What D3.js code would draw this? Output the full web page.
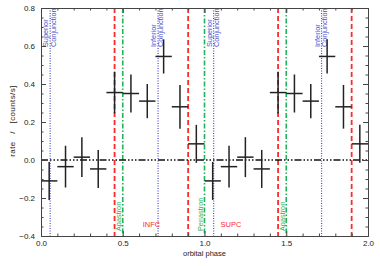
<!DOCTYPE html>
<html><head><meta charset="utf-8">
<script src="https://cdn.jsdelivr.net/npm/d3@7"></script>
<style>
html,body{margin:0;padding:0;background:#fff;}
svg text{font-family:"Liberation Sans",Arial,sans-serif;}
</style></head>
<body><svg id="c" width="380" height="266"></svg>
<script>
// ---- data ----
const phaseCenters = [0.05,0.15,0.25,0.35,0.45,0.55,0.65,0.75,0.85,0.95,
                      1.05,1.15,1.25,1.35,1.45,1.55,1.65,1.75,1.85,1.95];
const rates = [-0.11,-0.035,0.015,-0.047,0.355,0.35,0.31,0.545,0.28,0.085,
               -0.11,-0.035,0.015,-0.047,0.355,0.35,0.31,0.545,0.28,0.085];
const rateErrors = [0.10,0.11,0.105,0.10,0.11,0.10,0.09,0.09,0.115,0.10,
                    0.10,0.11,0.105,0.10,0.11,0.10,0.09,0.09,0.115,0.10];
const binHalfWidth = 0.05;
const conjunctionPhases = [0.056,0.716,1.056,1.716];
const conjunctionLabels = [["Superior","Conjunction"],["Inferior","Conjunction"],["Superior","Conjunction"],["Inferior","Conjunction"]];
const redPhases = [0.45,0.90,1.45,1.90];
const apsidesPhases = [0.5,1.0,1.5];
const apsidesLabels = ["Apastron","Periastron","Apastron"];
const regionLabels = [["INFC",0.676],["SUPC",1.162]];
const xMajorTicks = [0.0,0.5,1.0,1.5,2.0];
const yMajorTicks = [-0.4,-0.2,0.0,0.2,0.4,0.6,0.8];

// ---- layout ----
const L=41,R=368,T=8,B=236;
const x=d3.scaleLinear().domain([0,2]).range([L,R]);
const y=d3.scaleLinear().domain([-0.4,0.8]).range([B,T]);
const svg=d3.select("#c");
const axisCol="#444", blue="#4a4ac8", red="#ff2a2a", green="#1fb35a";

const xMinor=d3.range(0,2.0001,0.1).map(v=>+v.toFixed(2)).filter(v=>!xMajorTicks.some(m=>Math.abs(m-v)<1e-6));
const yMinor=d3.range(-0.4,0.8001,0.05).map(v=>+v.toFixed(2)).filter(v=>!yMajorTicks.some(m=>Math.abs(m-v)<1e-6));

const fmt=d=>d.toFixed(1);
function styleAxis(g){g.selectAll("path").attr("stroke",axisCol).attr("stroke-width",1);
  g.selectAll("line").attr("stroke",axisCol).attr("stroke-width",1);
  g.selectAll("text").attr("fill","#222").style("font-size","8px");}

// reference lines
const lines=svg.append("g");
conjunctionPhases.forEach(p=>{
  lines.append("line").attr("x1",x(p)).attr("x2",x(p)).attr("y1",T).attr("y2",B)
    .attr("stroke",blue).attr("stroke-width",1.2).attr("stroke-dasharray","1,1.5");
});
redPhases.forEach(p=>{
  lines.append("line").attr("x1",x(p)).attr("x2",x(p)).attr("y1",T).attr("y2",B)
    .attr("stroke",red).attr("stroke-width",1.8).attr("stroke-dasharray","5,3");
});
apsidesPhases.forEach(p=>{
  lines.append("line").attr("x1",x(p)).attr("x2",x(p)).attr("y1",T).attr("y2",B)
    .attr("stroke",green).attr("stroke-width",1.6).attr("stroke-dasharray","5,2,1.5,2");
});
// zero line dash dot dot dot
lines.append("line").attr("x1",x(0)).attr("x2",x(2)).attr("y1",y(0)).attr("y2",y(0))
  .attr("stroke","#111").attr("stroke-width",1.5).attr("stroke-dasharray","7,2,1.5,2,1.5,2,1.5,2");

// labels
conjunctionPhases.forEach((p,i)=>{
  const lx=x(p);
  conjunctionLabels[i].forEach((t,j)=>{
    svg.append("text").attr("transform",`translate(${lx-1.8+j*7.2},47) rotate(-90)`)
      .attr("fill",blue).style("font-size","7.3px").text(t);
  });
});
apsidesPhases.forEach((p,i)=>{
  svg.append("text").attr("transform",`translate(${x(p)-1.5},231) rotate(-90)`)
    .attr("fill",green).style("font-size","7.3px").text(apsidesLabels[i]);
});
regionLabels.forEach(([t,p])=>{
  svg.append("text").attr("x",x(p)).attr("y",227).attr("text-anchor","middle")
    .attr("fill",red).style("font-size","7.5px").text(t);
});

// data crosses
const pts=svg.append("g");
phaseCenters.forEach((p,i)=>{
  pts.append("line").attr("x1",x(p-binHalfWidth)).attr("x2",x(p+binHalfWidth))
    .attr("y1",y(rates[i])).attr("y2",y(rates[i])).attr("stroke","#222").attr("stroke-width",1.5);
  pts.append("line").attr("x1",x(p)).attr("x2",x(p))
    .attr("y1",y(rates[i]-rateErrors[i])).attr("y2",y(rates[i]+rateErrors[i])).attr("stroke","#222").attr("stroke-width",1.5);
});

// axes
const gb=svg.append("g").attr("transform",`translate(0,${B})`)
  .call(d3.axisBottom(x).tickValues(xMajorTicks).tickFormat(fmt).tickSize(-5).tickPadding(4).tickSizeOuter(0));
gb.call(styleAxis);
svg.append("g").attr("transform",`translate(0,${B})`).call(d3.axisBottom(x).tickValues(xMinor).tickFormat("").tickSize(-2.5).tickSizeOuter(0)).call(styleAxis);
svg.append("g").attr("transform",`translate(0,${T})`).call(d3.axisTop(x).tickValues(xMajorTicks).tickFormat("").tickSize(-5).tickSizeOuter(0)).call(styleAxis);
svg.append("g").attr("transform",`translate(0,${T})`).call(d3.axisTop(x).tickValues(xMinor).tickFormat("").tickSize(-2.5).tickSizeOuter(0)).call(styleAxis);
const gl=svg.append("g").attr("transform",`translate(${L},0)`)
  .call(d3.axisLeft(y).tickValues(yMajorTicks).tickFormat(fmt).tickSize(-5).tickPadding(6).tickSizeOuter(0));
gl.call(styleAxis);
svg.append("g").attr("transform",`translate(${L},0)`).call(d3.axisLeft(y).tickValues(yMinor).tickFormat("").tickSize(-2.5).tickSizeOuter(0)).call(styleAxis);
svg.append("g").attr("transform",`translate(${R},0)`).call(d3.axisRight(y).tickValues(yMajorTicks).tickFormat("").tickSize(-5).tickSizeOuter(0)).call(styleAxis);
svg.append("g").attr("transform",`translate(${R},0)`).call(d3.axisRight(y).tickValues(yMinor).tickFormat("").tickSize(-2.5).tickSizeOuter(0)).call(styleAxis);
gl.selectAll("text").text(d=>d<0?"\u2212"+Math.abs(d).toFixed(1):d.toFixed(1));

// axis titles
svg.append("text").attr("x",(L+R)/2).attr("y",256).attr("text-anchor","middle")
  .attr("fill","#222").style("font-size","7.5px").text("orbital phase");
svg.append("text").attr("transform",`translate(15,121) rotate(-90)`).attr("text-anchor","middle")
  .attr("fill","#222").style("font-size","8px").style("letter-spacing","0.4px").style("word-spacing","5px").text("rate / [counts/s]");
</script></body></html>
